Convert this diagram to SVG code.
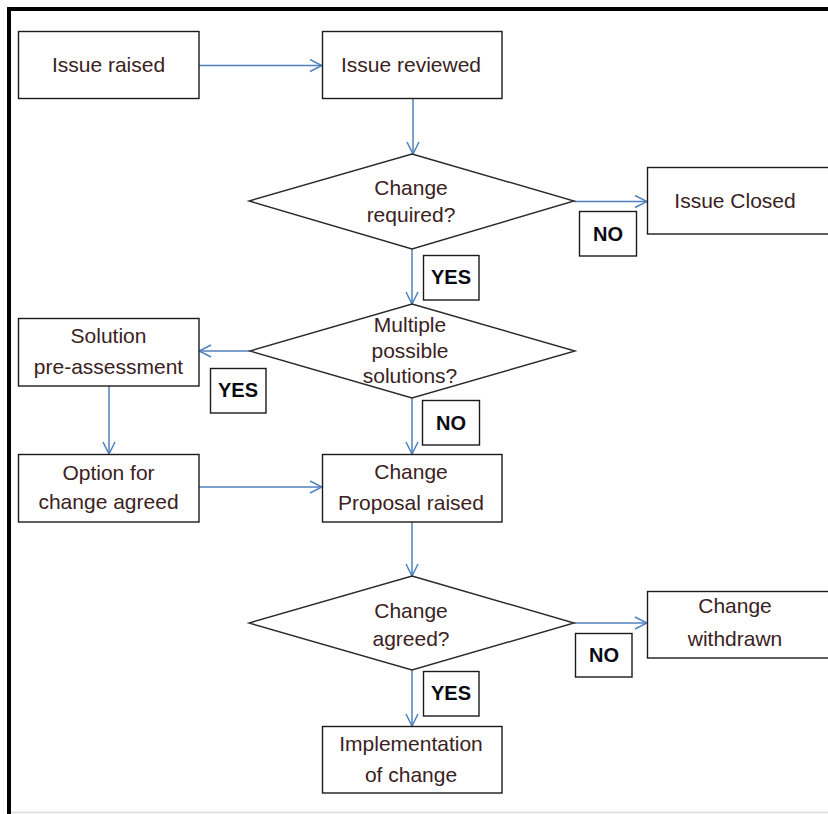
<svg xmlns="http://www.w3.org/2000/svg" width="828" height="814" viewBox="0 0 828 814">
<style>
.box{fill:#fff;stroke:#1a1a1a;stroke-width:1.4}
.dia{fill:#fff;stroke:#2a2a2a;stroke-width:1.4}
.lbl{fill:#fff;stroke:#1a1a1a;stroke-width:1.4}
.t{font-family:"Liberation Sans",Arial,sans-serif;font-size:21px;fill:#3a2222;text-anchor:middle}
.lt{font-family:"Liberation Sans",Arial,sans-serif;font-size:20px;font-weight:bold;fill:#0a0a14;text-anchor:middle}
.c{fill:none;stroke:#4f81bd;stroke-width:1.5}
</style>
<defs>
<marker id="ah" viewBox="0 0 14 14" refX="13" refY="7" markerWidth="14" markerHeight="14" markerUnits="userSpaceOnUse" orient="auto">
<path d="M1,1 L13,7 L1,13" fill="none" stroke="#4f81bd" stroke-width="1.5"/>
</marker>
</defs>
<rect width="828" height="814" fill="#fff"/>
<path d="M9,814 V9 H828" fill="none" stroke="#000" stroke-width="4"/>
<line x1="11" y1="812.5" x2="828" y2="812.5" stroke="#d9d9d9" stroke-width="1.5"/>

<g id="connectors">
<path class="c" d="M199,65.5 H322" marker-end="url(#ah)"/>
<path class="c" d="M413,99 V154" marker-end="url(#ah)"/>
<path class="c" d="M574,201.5 H647" marker-end="url(#ah)"/>
<path class="c" d="M412,249 V304" marker-end="url(#ah)"/>
<path class="c" d="M250,351 H199" marker-end="url(#ah)"/>
<path class="c" d="M412,398 V454" marker-end="url(#ah)"/>
<path class="c" d="M109,386 V454" marker-end="url(#ah)"/>
<path class="c" d="M199,487 H322" marker-end="url(#ah)"/>
<path class="c" d="M412,522 V576" marker-end="url(#ah)"/>
<path class="c" d="M574,623 H647" marker-end="url(#ah)"/>
<path class="c" d="M412,670 V726" marker-end="url(#ah)"/>
</g>

<g id="issue-raised">
<rect class="box" x="18.5" y="31.5" width="180.5" height="67"/>
<text class="t" x="108.5" y="72">Issue raised</text>
</g>
<g id="issue-reviewed">
<rect class="box" x="322.5" y="31.5" width="179.5" height="67"/>
<text class="t" x="411" y="72">Issue reviewed</text>
</g>
<g id="change-required">
<polygon class="dia" points="412,154 574,201 412,249 249,201"/>
<text class="t" x="411" y="195">Change</text>
<text class="t" x="411" y="222">required?</text>
</g>
<g id="issue-closed">
<rect class="box" x="647.5" y="167.5" width="182" height="66.5"/>
<text class="t" x="735" y="208">Issue Closed</text>
</g>
<g id="label-no-1">
<rect class="lbl" x="579.5" y="211.5" width="57" height="44.5"/>
<text class="lt" x="608" y="240.5">NO</text>
</g>
<g id="label-yes-1">
<rect class="lbl" x="423.5" y="255.5" width="55.5" height="44.5"/>
<text class="lt" x="451" y="284">YES</text>
</g>
<g id="multiple-solutions">
<polygon class="dia" points="412,304 575,351 412,398 250,351"/>
<text class="t" x="410" y="332">Multiple</text>
<text class="t" x="410" y="358">possible</text>
<text class="t" x="410" y="383">solutions?</text>
</g>
<g id="solution-pre-assessment">
<rect class="box" x="18.5" y="318.5" width="180.5" height="67.5"/>
<text class="t" x="108.5" y="343">Solution</text>
<text class="t" x="108.5" y="374">pre-assessment</text>
</g>
<g id="label-yes-2">
<rect class="lbl" x="210.5" y="368.5" width="55.5" height="44.5"/>
<text class="lt" x="238" y="397">YES</text>
</g>
<g id="label-no-2">
<rect class="lbl" x="422.5" y="400.5" width="57" height="44.5"/>
<text class="lt" x="451" y="430">NO</text>
</g>
<g id="option-agreed">
<rect class="box" x="18.5" y="454.5" width="180.5" height="67.5"/>
<text class="t" x="108.5" y="480">Option for</text>
<text class="t" x="108.5" y="509">change agreed</text>
</g>
<g id="change-proposal">
<rect class="box" x="322.5" y="454.5" width="179.5" height="67.5"/>
<text class="t" x="411" y="479">Change</text>
<text class="t" x="411" y="510">Proposal raised</text>
</g>
<g id="change-agreed">
<polygon class="dia" points="412,576 574,623 412,670 249,623"/>
<text class="t" x="411" y="618">Change</text>
<text class="t" x="411" y="646">agreed?</text>
</g>
<g id="change-withdrawn">
<rect class="box" x="647.5" y="591.5" width="182" height="66.5"/>
<text class="t" x="735" y="613">Change</text>
<text class="t" x="735" y="646">withdrawn</text>
</g>
<g id="label-no-3">
<rect class="lbl" x="575.5" y="633.5" width="56.5" height="43.5"/>
<text class="lt" x="604" y="662">NO</text>
</g>
<g id="label-yes-3">
<rect class="lbl" x="423.5" y="671.5" width="55.5" height="44.5"/>
<text class="lt" x="451" y="700">YES</text>
</g>
<g id="implementation">
<rect class="box" x="322.5" y="726.5" width="179.5" height="66.5"/>
<text class="t" x="411" y="751">Implementation</text>
<text class="t" x="411" y="782">of change</text>
</g>
</svg>
